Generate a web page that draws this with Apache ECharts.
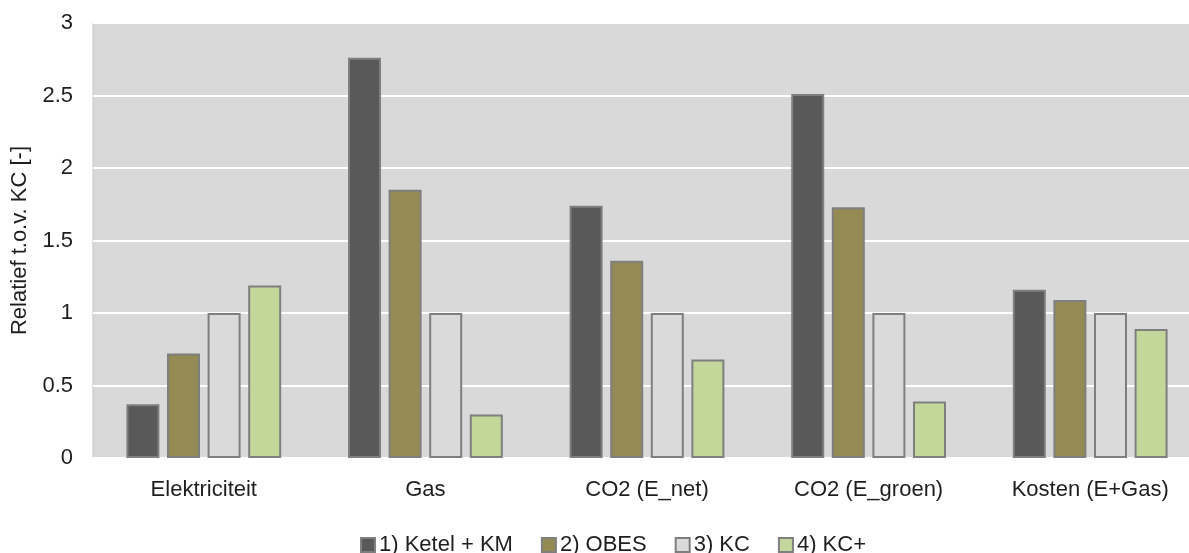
<!DOCTYPE html>
<html>
<head>
<meta charset="utf-8">
<script src="https://cdn.jsdelivr.net/npm/echarts@6/dist/echarts.min.js"></script>
<style>
  html, body { margin: 0; padding: 0; background: #ffffff; }
  #chart { width: 1189px; height: 553px; }
</style>
</head>
<body>
<div id="chart"></div>
<script>
// Categories along the x axis
var categories = ['Elektriciteit', 'Gas', 'CO2 (E_net)', 'CO2 (E_groen)', 'Kosten (E+Gas)'];

// Relative values per scenario (KC = 1)
var ketelKM = [0.37, 2.76, 1.74, 2.51, 1.16];
var obes    = [0.72, 1.85, 1.36, 1.73, 1.09];
var kc      = [1.00, 1.00, 1.00, 1.00, 1.00];
var kcPlus  = [1.19, 0.30, 0.68, 0.39, 0.89];

var seriesNames = ['1) Ketel + KM', '2) OBES', '3) KC', '4) KC+'];

var FONT = 'Liberation Sans, Arial, sans-serif';
var TEXT = '#1e1e1e';

function bar(name, data, fill) {
  return {
    name: name,
    type: 'bar',
    data: data,
    barWidth: 33,
    barGap: '23%',
    itemStyle: { color: fill, borderColor: '#7f7f7f', borderWidth: 2 },
    emphasis: { disabled: true }
  };
}

var chart = echarts.init(document.getElementById('chart'), null, { renderer: 'canvas' });
chart.setOption({
  animation: false,
  textStyle: { fontFamily: FONT },
  grid: {
    left: 93, top: 23, width: 1108, height: 435,
    outerBoundsMode: 'none',
    show: true, backgroundColor: '#d9d9d9', borderColor: '#c4c4c4', borderWidth: 1,
    containLabel: false
  },
  legend: {
    data: seriesNames,
    left: 355, top: 529,
    icon: 'rect',
    itemWidth: 14, itemHeight: 14,
    itemGap: 28,
    textStyle: { fontFamily: FONT, fontSize: 22, color: TEXT, padding: [0, 0, 0, -1] }
  },
  xAxis: {
    type: 'category',
    data: categories,
    axisLine: { show: false },
    axisTick: { show: false },
    axisLabel: { fontFamily: FONT, fontSize: 22, color: TEXT, margin: 21 },
    splitLine: { show: false }
  },
  yAxis: {
    type: 'value',
    min: 0, max: 3, interval: 0.5,
    name: 'Relatief t.o.v. KC [-]',
    nameLocation: 'middle',
    nameGap: 62,
    nameRotate: 90,
    nameTextStyle: { fontFamily: FONT, fontSize: 22, color: TEXT },
    axisLine: { show: false },
    axisTick: { show: false },
    axisLabel: { fontFamily: FONT, fontSize: 22, color: TEXT, margin: 20 },
    splitLine: { show: true, lineStyle: { color: '#ffffff', width: 2 } }
  },
  series: [
    bar(seriesNames[0], ketelKM, '#595959'),
    bar(seriesNames[1], obes, '#948a54'),
    bar(seriesNames[2], kc, '#dadada'),
    bar(seriesNames[3], kcPlus, '#c4d79b')
  ]
});
</script>
</body>
</html>
